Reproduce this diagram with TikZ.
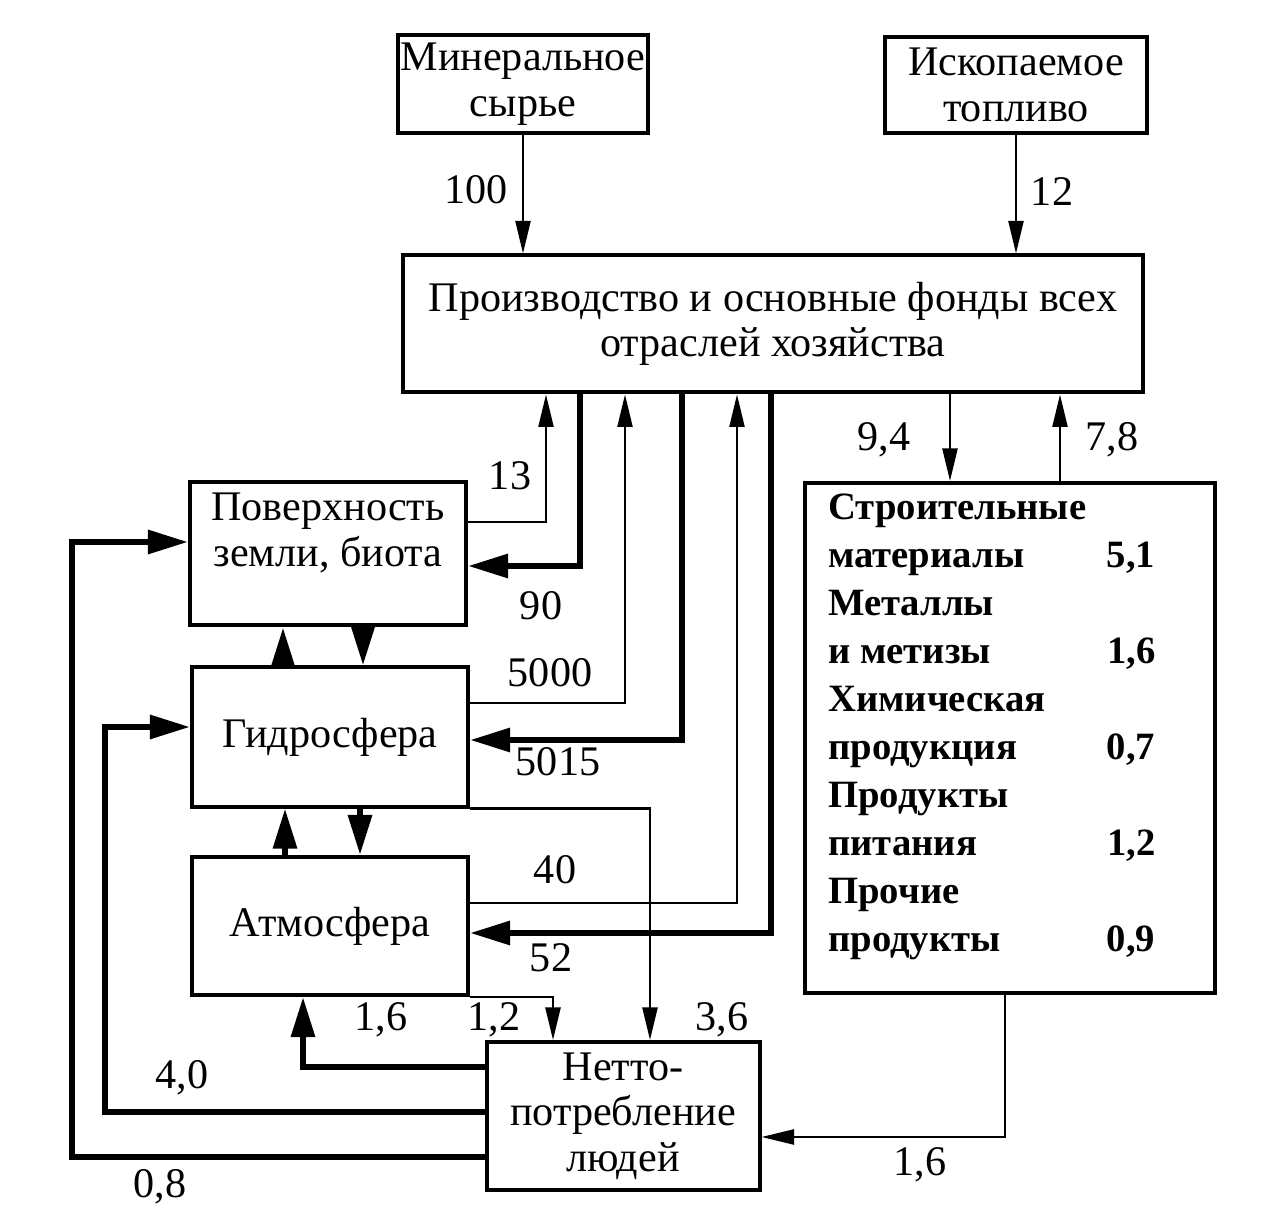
\documentclass[tikz,border=0pt]{standalone}
\usepackage{fontspec}
\setmainfont{Liberation Serif}
\usetikzlibrary{arrows.meta}
\usetikzlibrary{positioning}

\begin{document}
\begin{tikzpicture}[x=0.2mm, y=-0.2mm,
            box/.style = {draw, line width=0.8mm, align=center, inner sep=0pt,
                font=\fontsize{24}{26}\selectfont},
            txt/.style = {align=center, inner sep=0pt,
                font=\fontsize{24}{26}\selectfont},
            list/.style = {inner sep=0pt, font=\bfseries\fontsize{22}{27.3}\selectfont},
            num/.style = {inner sep=0pt, font=\fontsize{24}{26}\selectfont},
            flow/.style = {line width=0.45mm, -{Triangle[length=6.5mm,width=3mm]}},
            bigflow/.style = {line width=1.2mm, -{Triangle[length=8mm,width=4.6mm]}}]
            \useasboundingbox (0,0) rectangle (1271,1223);
            % boxes
            \node[box, minimum width=50mm, minimum height=19.6mm] (min) at (523,84)
                {Минеральное\\сырье};
            \node[box, minimum width=52.4mm, minimum height=19.2mm] (fos) at (1016,85)
                {Ископаемое\\топливо};
            \node[box, minimum width=148mm, minimum height=27.4mm] (prod) at (773,324)
                {Производство и основные фонды всех\\отраслей хозяйства};
            \node[box, minimum width=55.2mm, minimum height=28.6mm] (surf) at (328,554) {};
            \node[txt] (surf text) at (328,533) {Поверхность\\земли, биота};
            \node[box, minimum width=55.2mm, minimum height=27.8mm] (hyd) at (330,737)
                {Гидросфера};
            \node[box, minimum width=55.2mm, minimum height=27.6mm] (atm) at (330,926)
                {Атмосфера};
            \node[box, minimum width=54.6mm, minimum height=29.6mm] (net) at (623,1116)
                {Нетто-\\потребление\\людей};
            \node[box, minimum width=82mm, minimum height=102mm] (cons) at (1010,738) {};
            \node[list, anchor=north west] (cons text) at ([shift={(25,5)}]cons.north west) {%
                \begin{tabular*}{65.4mm}{@{}l@{\extracolsep{\fill}}r@{}}
                    Строительные & \\
                    материалы & 5,1 \\
                    Металлы & \\
                    и метизы & 1,6 \\
                    Химическая & \\
                    продукция & 0,7 \\
                    Продукты & \\
                    питания & 1,2 \\
                    Прочие & \\
                    продукты & 0,9
                \end{tabular*}};
            % inputs
            \draw[flow] (min.south) -- (min.south |- prod.north);
            \node[num] at (476,190) {100};
            \draw[flow] (fos.south) -- (fos.south |- prod.north);
            \node[num] at (1052,192) {12};
            \draw[flow] (950,0 |- prod.south) -- (950,0 |- cons.north);
            \node[num] at (884,440) {9,4};
            \draw[flow] (1060,0 |- cons.north) -- (1060,0 |- prod.south);
            \node[num] at (1112,440) {7,8};
            % exchange with the environment
            \draw[flow] (surf.east |- 0,522) -| (546,0 |- prod.south);
            \node[num] at (510,476) {13};
            \draw[bigflow] (580,0 |- prod.south) |- (surf.east |- 0,566);
            \node[num] at (541,606) {90};
            \draw[flow] (hyd.east |- 0,703) -| (625,0 |- prod.south);
            \node[num] at (550,673) {5000};
            \draw[bigflow] (682,0 |- prod.south) |- (hyd.east |- 0,740);
            \node[num] at (558,762) {5015};
            \draw[flow] (atm.east |- 0,903) -| (737,0 |- prod.south);
            \node[num] at (555,870) {40};
            \draw[bigflow] (771,0 |- prod.south) |- (atm.east |- 0,933);
            \node[num] at (551,958) {52};
            % between the spheres
            \draw[bigflow] (283,0 |- hyd.north) -- (283,0 |- surf.south);
            \draw[bigflow] (363,0 |- surf.south) -- (363,0 |- hyd.north);
            \draw[bigflow] (285,0 |- atm.north) -- (285,0 |- hyd.south);
            \draw[bigflow] (360,0 |- hyd.south) -- (360,0 |- atm.north);
            % net consumption
            \draw[flow] (hyd.south east) -| (650,0 |- net.north);
            \node[num] at (722,1020) {3,6};
            \draw[flow] (atm.south east) -| (553,0 |- net.north);
            \node[num] at (494,1020) {1,2};
            \draw[bigflow] (net.west |- 0,1067) -| (303,0 |- atm.south);
            \node[num] at (381,1020) {1,6};
            \draw[bigflow] (net.west |- 0,1112) -| (105,727) -- (hyd.west |- 0,727);
            \node[num] at (182,1078) {4,0};
            \draw[bigflow] (net.west |- 0,1157) -| (72,542) -- (surf.west |- 0,542);
            \node[num] at (160,1187) {0,8};
            \draw[flow] (1005,0 |- cons.south) |- (net.east |- 0,1137);
            \node[num] at (920,1165) {1,6};
        \end{tikzpicture}
\end{document}
